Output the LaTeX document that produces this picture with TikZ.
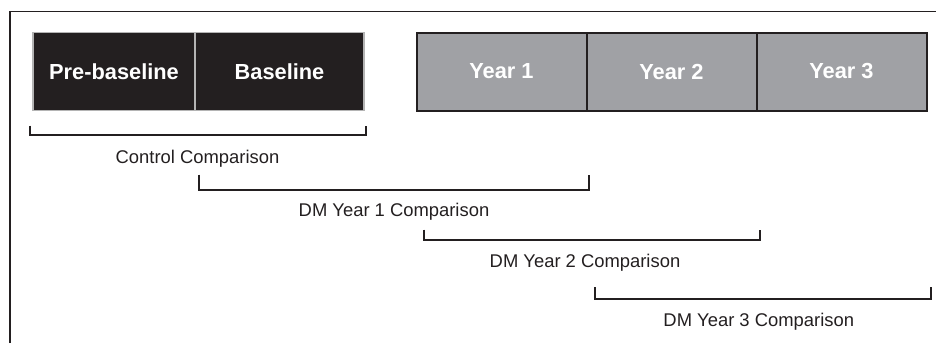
\documentclass[tikz,border=0pt]{standalone}
\usepackage{fontspec}
\setmainfont{Liberation Sans}
\definecolor{ink}{HTML}{231F20}
\definecolor{boxgrey}{HTML}{A0A1A5}
\definecolor{edgegrey}{HTML}{B4B4B4}

\begin{document}
\begin{tikzpicture}[x=1pt,y=-1pt,line width=2pt,text badly centered,
	bracket/.style={draw=ink,line width=2pt},
	comparison/.style={below=10pt,text=ink,font=\fontsize{18.4}{22}\selectfont}]

	\useasboundingbox (0,0) rectangle (936,343);
	\draw[ink,line width=1.5pt] (10,343) -- (10,11.5) -- (936,11.5);

	\begin{scope}[every node/.style={draw,rectangle,minimum height=78pt,outer sep=0pt,inner sep=0pt,text=white,font=\fontsize{21.8}{24}\selectfont\bfseries}]
		\node[fill=ink,draw=edgegrey,line width=1.5pt,minimum width=162pt] (prebase) at (33,71.5)      [anchor=west] {Pre-baseline};
		\node[fill=ink,draw=edgegrey,line width=1.5pt,minimum width=169pt] (base)    at (prebase.east) [anchor=west] {Baseline};
		\node[fill=boxgrey,draw=ink,minimum width=170pt] (year1) at (416.5,71.5)  [anchor=west] {Year 1};
		\node[fill=boxgrey,draw=ink,minimum width=170pt] (year2) at (year1.east) [anchor=west] {Year 2};
		\node[fill=boxgrey,draw=ink,minimum width=170pt] (year3) at (year2.east) [anchor=west] {Year 3};
	\end{scope}

	\coordinate (ctlL) at (29.5,134.5);
	\coordinate (ctlR) at (365.5,134.5);
	\coordinate (dm1L) at (199,189.5);
	\coordinate (dm1R) at (589,189.5);
	\coordinate (dm2L) at (424,239.5);
	\coordinate (dm2R) at (760,239.5);
	\coordinate (dm3L) at (594.5,299);
	\coordinate (dm3R) at (931,299);

	\draw[bracket] (ctlL) ++(0,-9) -- (ctlL) -- (ctlR) node[comparison,midway,yshift=-1pt] (ctltext) {Control Comparison} -- ++(0,-9);
	\draw[bracket] (dm1L) ++(0,-15) -- (dm1L) -- (dm1R) node[comparison,midway,yshift=1pt] (dm1text) {DM Year 1 Comparison} -- ++(0,-15);
	\draw[bracket] (dm2L) ++(0,-10) -- (dm2L) -- (dm2R) node[comparison,midway,xshift=-7pt] (dm2text) {DM Year 2 Comparison} -- ++(0,-10);
	\draw[bracket] (dm3L) ++(0,-12) -- (dm3L) -- (dm3R) node[comparison,midway,xshift=-4pt] (dm3text) {DM Year 3 Comparison} -- ++(0,-12);

\end{tikzpicture}
\end{document}
